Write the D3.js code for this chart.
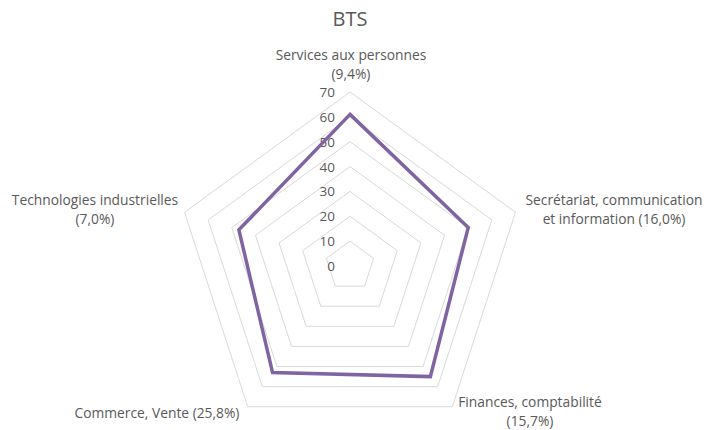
<!DOCTYPE html>
<html>
<head>
  <meta charset="UTF-8">
  <title>BTS</title>
  <script src="https://cdnjs.cloudflare.com/ajax/libs/d3/7.8.5/d3.min.js"></script>
  <style>
    body { margin: 0; background: #fff; }
    svg text { font-family: "Open Sans", "Noto Sans", sans-serif; fill: #595959; }
    .grid { fill: none; stroke: #d9d9d9; stroke-width: 1; }
    .serie { fill: none; stroke: #8064a2; stroke-width: 3.5; stroke-linejoin: miter; }
  </style>
</head>
<body>
  <svg width="704" height="430"></svg>

  <script>
    const categories = [
      ["Services aux personnes", "(9,4%)"],
      ["Secrétariat, communication", "et information (16,0%)"],
      ["Finances, comptabilité", "(15,7%)"],
      ["Commerce, Vente (25,8%)"],
      ["Technologies industrielles", "(7,0%)"]
    ];
    const values = [61, 50, 55, 53, 47];
    const ticks = [0, 10, 20, 30, 40, 50, 60, 70];

    const svg = d3.select("svg");
    const cx = 350, cy = 266;
    const radius = 174;

    const r = d3.scaleLinear().domain([0, 70]).range([0, radius]);
    const angle = d3.scaleLinear().domain([0, categories.length]).range([0, 2 * Math.PI]);

    const point = (i, v) => [cx + r(v) * Math.sin(angle(i)), cy - r(v) * Math.cos(angle(i))];

    svg.append("text")
      .attr("x", cx)
      .attr("y", 26)
      .attr("text-anchor", "middle")
      .style("font-size", "20px")
      .text("BTS");

    const line = d3.line().curve(d3.curveLinearClosed);

    svg.selectAll(".grid")
      .data(ticks.slice(1))
      .enter().append("path")
      .attr("class", "grid")
      .attr("d", t => line(categories.map((c, i) => point(i, t))));

    svg.selectAll(".tick-label")
      .data(ticks)
      .enter().append("text")
      .attr("class", "tick-label")
      .attr("x", cx - 15)
      .attr("y", t => cy - r(t) + 5)
      .attr("text-anchor", "end")
      .style("font-size", "13.5px")
      .text(t => t);

    svg.append("path")
      .attr("class", "serie")
      .attr("d", line(values.map((v, i) => point(i, v))));

    // category labels placed by hand around the outer ring
    const labelPos = [
      { x: 351, y: 60, anchor: "middle" },
      { x: 614, y: 205, anchor: "middle" },
      { x: 530, y: 407, anchor: "middle" },
      { x: 157, y: 418, anchor: "middle" },
      { x: 95, y: 205, anchor: "middle" }
    ];

    categories.forEach((lines, i) => {
      const t = svg.append("text")
        .attr("x", labelPos[i].x)
        .attr("y", labelPos[i].y)
        .attr("text-anchor", labelPos[i].anchor)
        .style("font-size", "13.8px");
      lines.forEach((l, k) => {
        t.append("tspan")
          .attr("x", labelPos[i].x)
          .attr("dy", k === 0 ? 0 : 19)
          .text(l);
      });
    });
  </script>
</body>
</html>
